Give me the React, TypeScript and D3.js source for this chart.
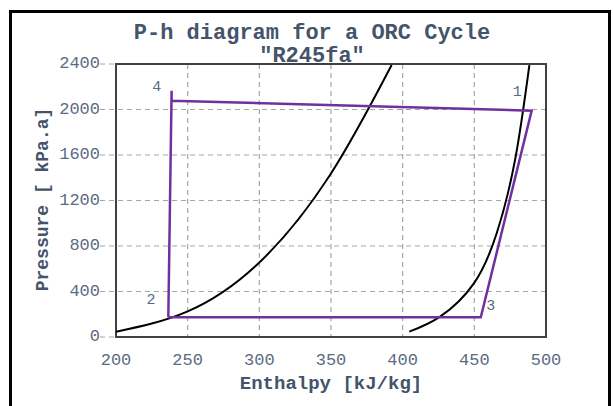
import React from "react";
import * as d3 from "d3";

const liquidH = [200, 250, 300, 349.3, 392.3];
const liquidP = [46, 225, 655, 1424, 2391];

const vaporH = [404.6, 426.1, 449.7, 465.6, 478.4, 488.4];
const vaporP = [47, 179, 472, 912, 1556, 2391];

// cycle path: 2 -> 4 (overshoot) -> 4 -> 1 -> 3 -> 2
const cycleH = [236.5, 238.8, 238.8, 490, 454.5, 236.5];
const cycleP = [173, 2165, 2077, 1990, 173, 173];

const stateLabels = ["1", "2", "3", "4"];
const stateLabelH = [480, 224.4, 461.4, 228.4];
const stateLabelP = [2156, 325, 272, 2200];

const xTicks = [200, 250, 300, 350, 400, 450, 500];
const yTicks = [0, 400, 800, 1200, 1600, 2000, 2400];

const W = 613;
const H = 406;
const M = { left: 116, right: 546, top: 64, bottom: 337 };

export default function App() {
  const x = d3.scaleLinear().domain([200, 500]).range([M.left, M.right]);
  const y = d3.scaleLinear().domain([0, 2400]).range([M.bottom, M.top]);
  const line = d3
    .line<[number, number]>()
    .x((d) => x(d[0]))
    .y((d) => y(d[1]));
  const natural = d3
    .line<[number, number]>()
    .x((d) => x(d[0]))
    .y((d) => y(d[1]))
    .curve(d3.curveNatural);

  const liq = liquidH.map((h, i) => [h, liquidP[i]] as [number, number]);
  const vap = vaporH.map((h, i) => [h, vaporP[i]] as [number, number]);
  const cyc = cycleH.map((h, i) => [h, cycleP[i]] as [number, number]);

  const mono = "'Liberation Mono', 'Courier New', monospace";
  const titleColor = "#44546A";
  const tickColor = "#5B6B82";

  return (
    <svg
      width={W}
      height={H}
      style={{ position: "absolute", left: 0, top: 0, background: "#fff" }}
    >
      <rect x={0} y={0} width={W} height={H} fill="#fff" />
      <rect x={10.5} y={11.5} width={599} height={420} fill="none" stroke="#000" strokeWidth={3} />

      {yTicks.map((t) => (
        <line
          key={"gy" + t}
          x1={M.left - 16}
          x2={M.right}
          y1={y(t)}
          y2={y(t)}
          stroke="#A6A6A6"
          strokeWidth={1.2}
          strokeDasharray="5,4"
        />
      ))}
      {xTicks.slice(1, -1).map((t) => (
        <line
          key={"gx" + t}
          x1={x(t)}
          x2={x(t)}
          y1={M.top}
          y2={M.bottom}
          stroke="#A6A6A6"
          strokeWidth={1.2}
          strokeDasharray="5,4"
        />
      ))}

      <rect
        x={M.left}
        y={M.top}
        width={M.right - M.left}
        height={M.bottom - M.top}
        fill="none"
        stroke="#404040"
        strokeWidth={2}
      />

      <defs>
        <clipPath id="plotclip">
          <rect x={M.left} y={M.top} width={M.right - M.left} height={M.bottom - M.top} />
        </clipPath>
      </defs>

      <g clipPath="url(#plotclip)">
        <path d={natural(liq) || ""} fill="none" stroke="#000" strokeWidth={2} />
        <path d={natural(vap) || ""} fill="none" stroke="#000" strokeWidth={2} />
      </g>
      <path d={line(cyc) || ""} fill="none" stroke="#7030A0" strokeWidth={2.5} strokeLinejoin="miter" />

      {stateLabels.map((s, i) => (
        <text
          key={"s" + s}
          x={x(stateLabelH[i])}
          y={y(stateLabelP[i])}
          fill={tickColor}
          fontFamily={mono}
          fontSize={15}
          textAnchor="middle"
          dominantBaseline="middle"
        >
          {s}
        </text>
      ))}

      {yTicks.map((t) => (
        <text
          key={"ty" + t}
          x={M.left - 16}
          y={y(t)}
          fill={tickColor}
          fontFamily={mono}
          fontSize={17}
          textAnchor="end"
          dominantBaseline="middle"
        >
          {t}
        </text>
      ))}
      {xTicks.map((t) => (
        <text
          key={"tx" + t}
          x={x(t)}
          y={361}
          fill={tickColor}
          fontFamily={mono}
          fontSize={17}
          textAnchor="middle"
          dominantBaseline="middle"
        >
          {t}
        </text>
      ))}

      <text
        x={(M.left + M.right) / 2}
        y={389}
        fill={titleColor}
        fontFamily={mono}
        fontWeight="bold"
        fontSize={19}
        textAnchor="middle"
      >
        Enthalpy [kJ/kg]
      </text>
      <text
        transform={`translate(48, ${(M.top + M.bottom) / 2 - 1}) rotate(-90)`}
        fill={titleColor}
        fontFamily={mono}
        fontWeight="bold"
        fontSize={18}
        textAnchor="middle"
      >
        Pressure [ kPa.a]
      </text>

      <text
        x={312}
        y={39}
        fill={titleColor}
        fontFamily={mono}
        fontWeight="bold"
        fontSize={22}
        textAnchor="middle"
      >
        P-h diagram for a ORC Cycle
      </text>
      <text
        x={312}
        y={62}
        fill={titleColor}
        fontFamily={mono}
        fontWeight="bold"
        fontSize={22}
        textAnchor="middle"
      >
        "R245fa"
      </text>
    </svg>
  );
}
